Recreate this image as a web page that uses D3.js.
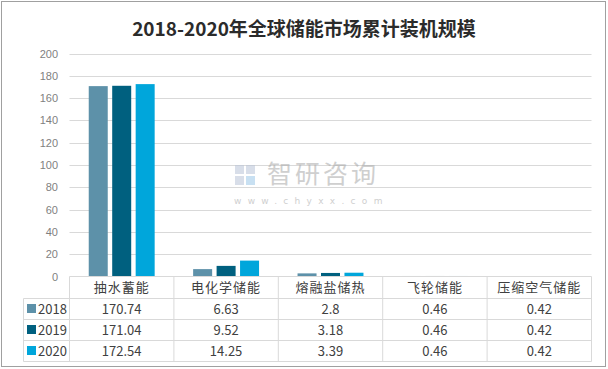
<!DOCTYPE html>
<html><head><meta charset="utf-8">
<script src="https://cdn.jsdelivr.net/npm/d3@7"></script>
<style>body{margin:0;background:#fff}svg{display:block}</style>
</head><body>
<svg id="c" width="608" height="369"></svg>
<script>
const title = "2018-2020年全球储能市场累计装机规模";
const categories = ["抽水蓄能","电化学储能","熔融盐储热","飞轮储能","压缩空气储能"];
const seriesNames = ["2018","2019","2020"];
const values2018 = [170.74, 6.63, 2.8, 0.46, 0.42];
const values2019 = [171.04, 9.52, 3.18, 0.46, 0.42];
const values2020 = [172.54, 14.25, 3.39, 0.46, 0.42];
const valueLabels2018 = ["170.74","6.63","2.8","0.46","0.42"];
const valueLabels2019 = ["171.04","9.52","3.18","0.46","0.42"];
const valueLabels2020 = ["172.54","14.25","3.39","0.46","0.42"];
const yTicks = [0,20,40,60,80,100,120,140,160,180,200];
const colors = ["#5d91a9","#00607f","#00a6db"];

const series = [
  {name: seriesNames[0], values: values2018, labels: valueLabels2018},
  {name: seriesNames[1], values: values2019, labels: valueLabels2019},
  {name: seriesNames[2], values: values2020, labels: valueLabels2020}
];

const svg = d3.select("#c");
const font = "'Noto Sans CJK SC','Microsoft YaHei',sans-serif";
const grid = "#d9d9d9";

// outer border
svg.append("rect").attr("x",1.5).attr("y",1.5).attr("width",604).attr("height",365)
  .attr("fill","#fff").attr("stroke","#a0a0a0");

// title
svg.append("text").attr("x",304).attr("y",36).attr("text-anchor","middle")
  .attr("font-family",font).attr("font-weight","bold").attr("font-size",19)
  .attr("fill","#2b2b2b").text(title);

const pLeft = 69.5, pRight = 591.5, pTop = 53.5, pBottom = 276.5;
const x = d3.scaleBand().domain(categories).range([pLeft,pRight]).paddingInner(0).paddingOuter(0);
const xs = d3.scaleBand().domain(seriesNames).range([0,x.bandwidth()]).paddingInner(0.19).paddingOuter(0.82);
const y = d3.scaleLinear().domain([0,200]).range([pBottom,pTop]);

// gridlines
svg.append("g").selectAll("line").data(yTicks.filter(d=>d>0)).join("line")
  .attr("x1",pLeft).attr("x2",pRight)
  .attr("y1",d=>Math.round(y(d))+0.5).attr("y2",d=>Math.round(y(d))+0.5)
  .attr("stroke",grid).attr("stroke-width",1);

// y axis labels
const yAxis = d3.axisLeft(y).tickValues(yTicks).tickSize(0).tickPadding(0);
const ga = svg.append("g").attr("transform",`translate(58,0)`).call(yAxis);
ga.select(".domain").remove();
ga.selectAll("text").attr("font-family","'Liberation Sans',Arial,sans-serif").attr("font-size",11).attr("fill","#7f7f7f");

// watermark
const wm = svg.append("g").attr("opacity",0.55);
wm.append("rect").attr("x",235).attr("y",165).attr("width",9).attr("height",9).attr("fill","#b9c4d8");
wm.append("rect").attr("x",246).attr("y",165).attr("width",9).attr("height",9).attr("fill","#b9c4d8");
wm.append("rect").attr("x",235).attr("y",176).attr("width",9).attr("height",9).attr("fill","#b9c4d8");
wm.append("rect").attr("x",246).attr("y",176).attr("width",9).attr("height",9).attr("fill","#9cc8e8");
wm.append("text").attr("x",267).attr("y",183).attr("font-family",font).attr("font-size",25)
  .attr("fill","#a8a8a8").attr("letter-spacing",3).text("智研咨询");
wm.append("text").attr("x",234).attr("y",204).attr("font-family","'DejaVu Sans',sans-serif").attr("font-size",9)
  .attr("fill","#a8a8a8").attr("letter-spacing",6.3).text("www.chyxx.com");

// bars
const gb = svg.append("g");
series.forEach((s,i)=>{
  gb.append("g").selectAll("rect").data(categories).join("rect")
    .attr("x",c=>x(c)+xs(s.name))
    .attr("width",xs.bandwidth())
    .attr("y",(c,j)=>y(s.values[j]))
    .attr("height",(c,j)=>pBottom - y(s.values[j]))
    .attr("fill",colors[i]);
});

// data table
const tLeft = 23.5;
const rowTop = [276.5, 298.5, 319.5, 340.5, 361.5];
const tg = svg.append("g").attr("stroke",grid).attr("fill","none");
tg.append("line").attr("x1",pLeft).attr("x2",pRight).attr("y1",rowTop[0]).attr("y2",rowTop[0]);
rowTop.slice(1).forEach(yy=>{
  tg.append("line").attr("x1",tLeft).attr("x2",pRight).attr("y1",yy).attr("y2",yy);
});
tg.append("line").attr("x1",tLeft).attr("x2",tLeft).attr("y1",rowTop[1]).attr("y2",rowTop[4]);
categories.forEach(c=>{
  tg.append("line").attr("x1",x(c)).attr("x2",x(c)).attr("y1",rowTop[0]).attr("y2",rowTop[4]);
});
tg.append("line").attr("x1",pRight).attr("x2",pRight).attr("y1",rowTop[0]).attr("y2",rowTop[4]);

// header labels
svg.append("g").selectAll("text").data(categories).join("text")
  .attr("x",c=>x(c)+x.bandwidth()/2).attr("y",(rowTop[0]+rowTop[1])/2+4.5)
  .attr("text-anchor","middle").attr("font-family",font).attr("font-size",13)
  .attr("letter-spacing",1).attr("fill","#404040").text(c=>c);

// rows
series.forEach((s,i)=>{
  const cy = (rowTop[i+1]+rowTop[i+2])/2;
  svg.append("rect").attr("x",27).attr("y",cy-5).attr("width",9).attr("height",9).attr("fill",colors[i]);
  svg.append("text").attr("x",38).attr("y",cy+4.5).attr("font-family",font).attr("font-size",13)
    .attr("fill","#404040").text(s.name);
  svg.append("g").selectAll("text").data(categories).join("text")
    .attr("x",c=>x(c)+x.bandwidth()/2).attr("y",cy+4.5)
    .attr("text-anchor","middle").attr("font-family",font).attr("font-size",13)
    .attr("fill","#404040").text((c,j)=>s.labels[j]);
});
</script>
</body></html>
